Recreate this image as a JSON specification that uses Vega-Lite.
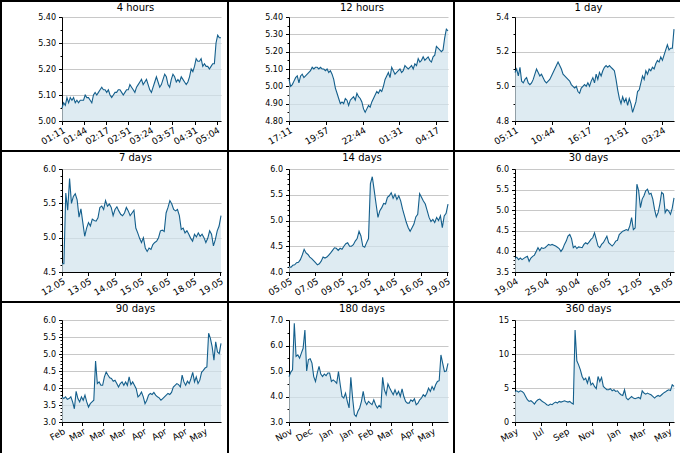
{
  "$schema": "https://vega.github.io/schema/vega-lite/v6.json",
  "padding": 0,
  "background": "white",
  "config": {
    "view": {"stroke": "#000", "strokeWidth": 2, "fill": "#fff"},
    "font": "DejaVu Sans",
    "title": {"font": "DejaVu Sans", "fontSize": 10, "fontWeight": "normal", "color": "#000", "anchor": "middle", "offset": -12, "dx": 21, "baseline": "bottom", "frame": "group"},
    "axis": {"labelFont": "DejaVu Sans", "labelFontSize": 8, "labelColor": "#000", "domainColor": "#000", "tickColor": "#000", "domainWidth": 1, "tickWidth": 1, "gridColor": "#c8c8c8", "gridWidth": 1},
    "axisX": {"grid": false, "labelAngle": -30, "labelAlign": "right", "labelBaseline": "top", "labelFlush": false, "labelOverlap": false, "tickSize": 3.5, "labelPadding": 1, "labelFontSize": 9},
    "axisY": {"grid": true, "labelOverlap": false, "labelPadding": 3}
  },
  "columns": 3,
  "spacing": 0,
  "bounds": "flush",
  "concat": [
    {
      "width": 227, "height": 150,
      "title": {"text": "4 hours"},
      "data": {"name": "h4"},
      "mark": {"type": "area", "color": "#d0e2ed", "line": {"color": "#145f8c", "strokeWidth": 1.1}},
      "encoding": {
        "x": {"field": "t", "type": "temporal", "scale": {"nice": false, "range": [61, 220]},
          "axis": {"title": null, "format": "%H:%M", "offset": -30, "values": [
            {"year": 2024, "month": 5, "date": 19, "hours": 1, "minutes": 11},
            {"year": 2024, "month": 5, "date": 19, "hours": 1, "minutes": 44, "seconds": 20},
            {"year": 2024, "month": 5, "date": 19, "hours": 2, "minutes": 17, "seconds": 40},
            {"year": 2024, "month": 5, "date": 19, "hours": 2, "minutes": 51},
            {"year": 2024, "month": 5, "date": 19, "hours": 3, "minutes": 24, "seconds": 20},
            {"year": 2024, "month": 5, "date": 19, "hours": 3, "minutes": 57, "seconds": 40},
            {"year": 2024, "month": 5, "date": 19, "hours": 4, "minutes": 31},
            {"year": 2024, "month": 5, "date": 19, "hours": 5, "minutes": 4, "seconds": 20}]}},
        "y": {"field": "v", "type": "quantitative", "scale": {"domain": [5.0, 5.4], "nice": false, "zero": false, "range": [120, 16]},
          "axis": {"title": null, "offset": -61, "values": [5.0, 5.05, 5.1, 5.15, 5.2, 5.25, 5.3, 5.35, 5.4],
            "labelExpr": "abs(datum.value*10-round(datum.value*10))<0.001 ? format(datum.value,'.2f') : ''",
            "tickSize": {"condition": {"test": "abs(datum.value*10-round(datum.value*10))<0.001", "value": 3.5}, "value": 2},
            "gridOpacity": {"condition": {"test": "abs(datum.value*10-round(datum.value*10))<0.001", "value": 1}, "value": 0}}},
        "y2": {"datum": 5.0}
      }
    },
    {
      "width": 226, "height": 150,
      "title": {"text": "12 hours"},
      "data": {"name": "h12"},
      "mark": {"type": "area", "color": "#d0e2ed", "line": {"color": "#145f8c", "strokeWidth": 1.1}},
      "encoding": {
        "x": {"field": "t", "type": "temporal", "scale": {"nice": false, "range": [61, 220]},
          "axis": {"title": null, "format": "%H:%M", "offset": -30, "values": [
            {"year": 2024, "month": 5, "date": 18, "hours": 17, "minutes": 11},
            {"year": 2024, "month": 5, "date": 18, "hours": 19, "minutes": 57, "seconds": 40},
            {"year": 2024, "month": 5, "date": 18, "hours": 22, "minutes": 44, "seconds": 20},
            {"year": 2024, "month": 5, "date": 19, "hours": 1, "minutes": 31},
            {"year": 2024, "month": 5, "date": 19, "hours": 4, "minutes": 17, "seconds": 40}]}},
        "y": {"field": "v", "type": "quantitative", "scale": {"domain": [4.8, 5.4], "nice": false, "zero": false, "range": [120, 16]},
          "axis": {"title": null, "offset": -61, "values": [4.8, 4.85, 4.9, 4.95, 5.0, 5.05, 5.1, 5.15, 5.2, 5.25, 5.3, 5.35, 5.4],
            "labelExpr": "abs(datum.value*10-round(datum.value*10))<0.001 ? format(datum.value,'.2f') : ''",
            "tickSize": {"condition": {"test": "abs(datum.value*10-round(datum.value*10))<0.001", "value": 3.5}, "value": 2},
            "gridOpacity": {"condition": {"test": "abs(datum.value*10-round(datum.value*10))<0.001", "value": 1}, "value": 0}}},
        "y2": {"datum": 4.8}
      }
    },
    {
      "width": 227, "height": 150,
      "title": {"text": "1 day"},
      "data": {"name": "d1"},
      "mark": {"type": "area", "color": "#d0e2ed", "line": {"color": "#145f8c", "strokeWidth": 1.1}},
      "encoding": {
        "x": {"field": "t", "type": "temporal", "scale": {"nice": false, "range": [61, 220]},
          "axis": {"title": null, "format": "%H:%M", "offset": -30, "values": [
            {"year": 2024, "month": 5, "date": 18, "hours": 5, "minutes": 11},
            {"year": 2024, "month": 5, "date": 18, "hours": 10, "minutes": 44, "seconds": 20},
            {"year": 2024, "month": 5, "date": 18, "hours": 16, "minutes": 17, "seconds": 40},
            {"year": 2024, "month": 5, "date": 18, "hours": 21, "minutes": 51},
            {"year": 2024, "month": 5, "date": 19, "hours": 3, "minutes": 24, "seconds": 20}]}},
        "y": {"field": "v", "type": "quantitative", "scale": {"domain": [4.8, 5.4], "nice": false, "zero": false, "range": [120, 16]},
          "axis": {"title": null, "offset": -61, "values": [4.8, 4.9, 5.0, 5.1, 5.2, 5.3, 5.4],
            "labelExpr": "abs(datum.value*5-round(datum.value*5))<0.001 ? format(datum.value,'.1f') : ''",
            "tickSize": {"condition": {"test": "abs(datum.value*5-round(datum.value*5))<0.001", "value": 3.5}, "value": 2},
            "gridOpacity": {"condition": {"test": "abs(datum.value*5-round(datum.value*5))<0.001", "value": 1}, "value": 0}}},
        "y2": {"datum": 4.8}
      }
    },
    {
      "width": 227, "height": 151,
      "title": {"text": "7 days"},
      "data": {"name": "d7"},
      "mark": {"type": "area", "color": "#d0e2ed", "line": {"color": "#145f8c", "strokeWidth": 1.1}},
      "encoding": {
        "x": {"field": "t", "type": "temporal", "scale": {"nice": false, "range": [61, 220]},
          "axis": {"title": null, "format": "%d.%m", "offset": -30, "values": [
            {"year": 2024, "month": 5, "date": 12, "hours": 5, "minutes": 11},
            {"year": 2024, "month": 5, "date": 13, "hours": 8, "minutes": 59},
            {"year": 2024, "month": 5, "date": 14, "hours": 12, "minutes": 47},
            {"year": 2024, "month": 5, "date": 15, "hours": 16, "minutes": 35},
            {"year": 2024, "month": 5, "date": 16, "hours": 20, "minutes": 23},
            {"year": 2024, "month": 5, "date": 18, "hours": 0, "minutes": 11},
            {"year": 2024, "month": 5, "date": 19, "hours": 3, "minutes": 59}]}},
        "y": {"field": "v", "type": "quantitative", "scale": {"domain": [4.5, 6.0], "nice": false, "zero": false, "range": [121, 18]},
          "axis": {"title": null, "offset": -61, "values": [4.5, 4.6, 4.7, 4.8, 4.9, 5.0, 5.1, 5.2, 5.3, 5.4, 5.5, 5.6, 5.7, 5.8, 5.9, 6.0],
            "labelExpr": "abs(datum.value*2-round(datum.value*2))<0.001 ? format(datum.value,'.1f') : ''",
            "tickSize": {"condition": {"test": "abs(datum.value*2-round(datum.value*2))<0.001", "value": 3.5}, "value": 2},
            "gridOpacity": {"condition": {"test": "abs(datum.value*2-round(datum.value*2))<0.001", "value": 1}, "value": 0}}},
        "y2": {"datum": 4.5}
      }
    },
    {
      "width": 226, "height": 151,
      "title": {"text": "14 days"},
      "data": {"name": "d14"},
      "mark": {"type": "area", "color": "#d0e2ed", "line": {"color": "#145f8c", "strokeWidth": 1.1}},
      "encoding": {
        "x": {"field": "t", "type": "temporal", "scale": {"nice": false, "range": [61, 220]},
          "axis": {"title": null, "format": "%d.%m", "offset": -30, "values": [
            {"year": 2024, "month": 5, "date": 5, "hours": 5, "minutes": 11},
            {"year": 2024, "month": 5, "date": 7, "hours": 12, "minutes": 47},
            {"year": 2024, "month": 5, "date": 9, "hours": 20, "minutes": 23},
            {"year": 2024, "month": 5, "date": 12, "hours": 3, "minutes": 59},
            {"year": 2024, "month": 5, "date": 14, "hours": 11, "minutes": 35},
            {"year": 2024, "month": 5, "date": 16, "hours": 19, "minutes": 11},
            {"year": 2024, "month": 5, "date": 19, "hours": 2, "minutes": 47}]}},
        "y": {"field": "v", "type": "quantitative", "scale": {"domain": [4.0, 6.0], "nice": false, "zero": false, "range": [121, 18]},
          "axis": {"title": null, "offset": -61, "values": [4.0, 4.1, 4.2, 4.3, 4.4, 4.5, 4.6, 4.7, 4.8, 4.9, 5.0, 5.1, 5.2, 5.3, 5.4, 5.5, 5.6, 5.7, 5.8, 5.9, 6.0],
            "labelExpr": "abs(datum.value*2-round(datum.value*2))<0.001 ? format(datum.value,'.1f') : ''",
            "tickSize": {"condition": {"test": "abs(datum.value*2-round(datum.value*2))<0.001", "value": 3.5}, "value": 2},
            "gridOpacity": {"condition": {"test": "abs(datum.value*2-round(datum.value*2))<0.001", "value": 1}, "value": 0}}},
        "y2": {"datum": 4.0}
      }
    },
    {
      "width": 227, "height": 151,
      "title": {"text": "30 days"},
      "data": {"name": "d30"},
      "mark": {"type": "area", "color": "#d0e2ed", "line": {"color": "#145f8c", "strokeWidth": 1.1}},
      "encoding": {
        "x": {"field": "t", "type": "temporal", "scale": {"nice": false, "range": [61, 220]},
          "axis": {"title": null, "format": "%d.%m", "offset": -30, "values": [
            {"year": 2024, "month": 4, "date": 19, "hours": 5, "minutes": 11},
            {"year": 2024, "month": 4, "date": 25, "hours": 1, "minutes": 11},
            {"year": 2024, "month": 4, "date": 30, "hours": 21, "minutes": 11},
            {"year": 2024, "month": 5, "date": 6, "hours": 17, "minutes": 11},
            {"year": 2024, "month": 5, "date": 12, "hours": 13, "minutes": 11},
            {"year": 2024, "month": 5, "date": 18, "hours": 9, "minutes": 11}]}},
        "y": {"field": "v", "type": "quantitative", "scale": {"domain": [3.5, 6.0], "nice": false, "zero": false, "range": [121, 18]},
          "axis": {"title": null, "offset": -61, "values": [3.5, 3.6, 3.7, 3.8, 3.9, 4.0, 4.1, 4.2, 4.3, 4.4, 4.5, 4.6, 4.7, 4.8, 4.9, 5.0, 5.1, 5.2, 5.3, 5.4, 5.5, 5.6, 5.7, 5.8, 5.9, 6.0],
            "labelExpr": "abs(datum.value*2-round(datum.value*2))<0.001 ? format(datum.value,'.1f') : ''",
            "tickSize": {"condition": {"test": "abs(datum.value*2-round(datum.value*2))<0.001", "value": 3.5}, "value": 2},
            "gridOpacity": {"condition": {"test": "abs(datum.value*2-round(datum.value*2))<0.001", "value": 1}, "value": 0}}},
        "y2": {"datum": 3.5}
      }
    },
    {
      "width": 227, "height": 152,
      "title": {"text": "90 days"},
      "data": {"name": "d90"},
      "mark": {"type": "area", "color": "#d0e2ed", "line": {"color": "#145f8c", "strokeWidth": 1.1}},
      "encoding": {
        "x": {"field": "t", "type": "temporal", "scale": {"nice": false, "range": [61, 220]},
          "axis": {"title": null, "format": "%b", "offset": -32, "values": [
            {"year": 2024, "month": 2, "date": 19, "hours": 5, "minutes": 11},
            {"year": 2024, "month": 3, "date": 1, "hours": 17, "minutes": 11},
            {"year": 2024, "month": 3, "date": 13, "hours": 5, "minutes": 11},
            {"year": 2024, "month": 3, "date": 24, "hours": 17, "minutes": 11},
            {"year": 2024, "month": 4, "date": 5, "hours": 5, "minutes": 11},
            {"year": 2024, "month": 4, "date": 16, "hours": 17, "minutes": 11},
            {"year": 2024, "month": 4, "date": 28, "hours": 5, "minutes": 11},
            {"year": 2024, "month": 5, "date": 9, "hours": 17, "minutes": 11}]}},
        "y": {"field": "v", "type": "quantitative", "scale": {"domain": [3.0, 6.0], "nice": false, "zero": false, "range": [120, 18]},
          "axis": {"title": null, "offset": -61, "values": [3.0, 3.1, 3.2, 3.3, 3.4, 3.5, 3.6, 3.7, 3.8, 3.9, 4.0, 4.1, 4.2, 4.3, 4.4, 4.5, 4.6, 4.7, 4.8, 4.9, 5.0, 5.1, 5.2, 5.3, 5.4, 5.5, 5.6, 5.7, 5.8, 5.9, 6.0],
            "labelExpr": "abs(datum.value*2-round(datum.value*2))<0.001 ? format(datum.value,'.1f') : ''",
            "tickSize": {"condition": {"test": "abs(datum.value*2-round(datum.value*2))<0.001", "value": 3.5}, "value": 2},
            "gridOpacity": {"condition": {"test": "abs(datum.value*2-round(datum.value*2))<0.001", "value": 1}, "value": 0}}},
        "y2": {"datum": 3.0}
      }
    },
    {
      "width": 226, "height": 152,
      "title": {"text": "180 days"},
      "data": {"name": "d180"},
      "mark": {"type": "area", "color": "#d0e2ed", "line": {"color": "#145f8c", "strokeWidth": 1.1}},
      "encoding": {
        "x": {"field": "t", "type": "temporal", "scale": {"nice": false, "range": [61, 220]},
          "axis": {"title": null, "format": "%b", "offset": -32, "values": [
            {"year": 2023, "month": 11, "date": 21, "hours": 5, "minutes": 11},
            {"year": 2023, "month": 12, "date": 14, "hours": 5, "minutes": 11},
            {"year": 2024, "month": 1, "date": 6, "hours": 5, "minutes": 11},
            {"year": 2024, "month": 1, "date": 29, "hours": 5, "minutes": 11},
            {"year": 2024, "month": 2, "date": 21, "hours": 5, "minutes": 11},
            {"year": 2024, "month": 3, "date": 15, "hours": 5, "minutes": 11},
            {"year": 2024, "month": 4, "date": 8, "hours": 5, "minutes": 11},
            {"year": 2024, "month": 5, "date": 1, "hours": 5, "minutes": 11}]}},
        "y": {"field": "v", "type": "quantitative", "scale": {"domain": [3.0, 7.0], "nice": false, "zero": false, "range": [120, 18]},
          "axis": {"title": null, "offset": -61, "values": [3.0, 3.5, 4.0, 4.5, 5.0, 5.5, 6.0, 6.5, 7.0],
            "labelExpr": "abs(datum.value-round(datum.value))<0.001 ? format(datum.value,'.1f') : ''",
            "tickSize": {"condition": {"test": "abs(datum.value-round(datum.value))<0.001", "value": 3.5}, "value": 2},
            "gridOpacity": {"condition": {"test": "abs(datum.value-round(datum.value))<0.001", "value": 1}, "value": 0}}},
        "y2": {"datum": 3.0}
      }
    },
    {
      "width": 227, "height": 152,
      "title": {"text": "360 days"},
      "data": {"name": "d360"},
      "mark": {"type": "area", "color": "#d0e2ed", "line": {"color": "#145f8c", "strokeWidth": 1.1}},
      "encoding": {
        "x": {"field": "t", "type": "temporal", "scale": {"nice": false, "range": [61, 220]},
          "axis": {"title": null, "format": "%b", "offset": -32, "values": [
            {"year": 2023, "month": 5, "date": 25, "hours": 5, "minutes": 11},
            {"year": 2023, "month": 7, "date": 22, "hours": 5, "minutes": 11},
            {"year": 2023, "month": 9, "date": 18, "hours": 5, "minutes": 11},
            {"year": 2023, "month": 11, "date": 15, "hours": 5, "minutes": 11},
            {"year": 2024, "month": 1, "date": 12, "hours": 5, "minutes": 11},
            {"year": 2024, "month": 3, "date": 10, "hours": 5, "minutes": 11},
            {"year": 2024, "month": 5, "date": 7, "hours": 5, "minutes": 11}]}},
        "y": {"field": "v", "type": "quantitative", "scale": {"domain": [0, 15], "nice": false, "zero": false, "range": [120, 18]},
          "axis": {"title": null, "offset": -61, "values": [0, 1, 2, 3, 4, 5, 6, 7, 8, 9, 10, 11, 12, 13, 14, 15],
            "labelExpr": "datum.value % 5 == 0 ? format(datum.value,'d') : ''",
            "tickSize": {"condition": {"test": "datum.value % 5 == 0", "value": 3.5}, "value": 2},
            "gridOpacity": {"condition": {"test": "datum.value % 5 == 0", "value": 1}, "value": 0}}},
        "y2": {"datum": 0}
      }
    }
  ],
  "datasets": {
    "h4": [
      {"t": "2024-05-19T01:11:00", "v": 5.05}, {"t": "2024-05-19T01:13:30", "v": 5.07}, {"t": "2024-05-19T01:16:00", "v": 5.06}, {"t": "2024-05-19T01:18:30", "v": 5.09},
      {"t": "2024-05-19T01:21:00", "v": 5.07}, {"t": "2024-05-19T01:23:30", "v": 5.09}, {"t": "2024-05-19T01:26:00", "v": 5.08}, {"t": "2024-05-19T01:28:30", "v": 5.09},
      {"t": "2024-05-19T01:31:00", "v": 5.07}, {"t": "2024-05-19T01:33:30", "v": 5.08}, {"t": "2024-05-19T01:36:00", "v": 5.07}, {"t": "2024-05-19T01:38:30", "v": 5.08},
      {"t": "2024-05-19T01:41:00", "v": 5.08}, {"t": "2024-05-19T01:43:30", "v": 5.08}, {"t": "2024-05-19T01:46:00", "v": 5.10}, {"t": "2024-05-19T01:48:30", "v": 5.09},
      {"t": "2024-05-19T01:51:00", "v": 5.09}, {"t": "2024-05-19T01:53:30", "v": 5.08}, {"t": "2024-05-19T01:56:00", "v": 5.07}, {"t": "2024-05-19T01:58:30", "v": 5.10},
      {"t": "2024-05-19T02:01:00", "v": 5.11}, {"t": "2024-05-19T02:03:30", "v": 5.10}, {"t": "2024-05-19T02:06:00", "v": 5.11}, {"t": "2024-05-19T02:08:30", "v": 5.12},
      {"t": "2024-05-19T02:11:00", "v": 5.13}, {"t": "2024-05-19T02:13:30", "v": 5.12}, {"t": "2024-05-19T02:16:00", "v": 5.12}, {"t": "2024-05-19T02:18:30", "v": 5.11},
      {"t": "2024-05-19T02:21:00", "v": 5.12}, {"t": "2024-05-19T02:23:30", "v": 5.10}, {"t": "2024-05-19T02:26:00", "v": 5.09}, {"t": "2024-05-19T02:28:30", "v": 5.10},
      {"t": "2024-05-19T02:31:00", "v": 5.11}, {"t": "2024-05-19T02:33:30", "v": 5.11}, {"t": "2024-05-19T02:36:00", "v": 5.12}, {"t": "2024-05-19T02:38:30", "v": 5.12},
      {"t": "2024-05-19T02:41:00", "v": 5.11}, {"t": "2024-05-19T02:43:30", "v": 5.10}, {"t": "2024-05-19T02:46:00", "v": 5.11}, {"t": "2024-05-19T02:48:30", "v": 5.12},
      {"t": "2024-05-19T02:51:00", "v": 5.12}, {"t": "2024-05-19T02:53:30", "v": 5.14}, {"t": "2024-05-19T02:56:00", "v": 5.13}, {"t": "2024-05-19T02:58:30", "v": 5.12},
      {"t": "2024-05-19T03:01:00", "v": 5.11}, {"t": "2024-05-19T03:03:30", "v": 5.13}, {"t": "2024-05-19T03:06:00", "v": 5.14}, {"t": "2024-05-19T03:08:30", "v": 5.15},
      {"t": "2024-05-19T03:11:00", "v": 5.16}, {"t": "2024-05-19T03:13:30", "v": 5.14}, {"t": "2024-05-19T03:16:00", "v": 5.15}, {"t": "2024-05-19T03:18:30", "v": 5.16},
      {"t": "2024-05-19T03:21:00", "v": 5.14}, {"t": "2024-05-19T03:23:30", "v": 5.12}, {"t": "2024-05-19T03:26:00", "v": 5.11}, {"t": "2024-05-19T03:28:30", "v": 5.13},
      {"t": "2024-05-19T03:31:00", "v": 5.15}, {"t": "2024-05-19T03:33:30", "v": 5.17}, {"t": "2024-05-19T03:36:00", "v": 5.15}, {"t": "2024-05-19T03:38:30", "v": 5.13},
      {"t": "2024-05-19T03:41:00", "v": 5.14}, {"t": "2024-05-19T03:43:30", "v": 5.16}, {"t": "2024-05-19T03:46:00", "v": 5.18}, {"t": "2024-05-19T03:48:30", "v": 5.17},
      {"t": "2024-05-19T03:51:00", "v": 5.14}, {"t": "2024-05-19T03:53:30", "v": 5.13}, {"t": "2024-05-19T03:56:00", "v": 5.16}, {"t": "2024-05-19T03:58:30", "v": 5.18},
      {"t": "2024-05-19T04:01:00", "v": 5.17}, {"t": "2024-05-19T04:03:30", "v": 5.15}, {"t": "2024-05-19T04:06:00", "v": 5.16}, {"t": "2024-05-19T04:08:30", "v": 5.15},
      {"t": "2024-05-19T04:11:00", "v": 5.17}, {"t": "2024-05-19T04:13:30", "v": 5.16}, {"t": "2024-05-19T04:16:00", "v": 5.15}, {"t": "2024-05-19T04:18:30", "v": 5.14},
      {"t": "2024-05-19T04:21:00", "v": 5.15}, {"t": "2024-05-19T04:23:30", "v": 5.17}, {"t": "2024-05-19T04:26:00", "v": 5.20}, {"t": "2024-05-19T04:28:30", "v": 5.19},
      {"t": "2024-05-19T04:31:00", "v": 5.21}, {"t": "2024-05-19T04:33:30", "v": 5.24}, {"t": "2024-05-19T04:36:00", "v": 5.23}, {"t": "2024-05-19T04:38:30", "v": 5.23},
      {"t": "2024-05-19T04:41:00", "v": 5.24}, {"t": "2024-05-19T04:43:30", "v": 5.21}, {"t": "2024-05-19T04:46:00", "v": 5.22}, {"t": "2024-05-19T04:48:30", "v": 5.21},
      {"t": "2024-05-19T04:51:00", "v": 5.21}, {"t": "2024-05-19T04:53:30", "v": 5.20}, {"t": "2024-05-19T04:56:00", "v": 5.21}, {"t": "2024-05-19T04:58:30", "v": 5.22},
      {"t": "2024-05-19T05:01:00", "v": 5.22}, {"t": "2024-05-19T05:03:30", "v": 5.30}, {"t": "2024-05-19T05:06:00", "v": 5.33}, {"t": "2024-05-19T05:08:30", "v": 5.32},
      {"t": "2024-05-19T05:11:00", "v": 5.32}
    ],
    "h12": [
      {"t": "2024-05-18T17:11:00", "v": 5.04}, {"t": "2024-05-18T17:18:30", "v": 5.00}, {"t": "2024-05-18T17:26:00", "v": 5.01}, {"t": "2024-05-18T17:33:30", "v": 5.03},
      {"t": "2024-05-18T17:41:00", "v": 5.05}, {"t": "2024-05-18T17:48:30", "v": 5.06}, {"t": "2024-05-18T17:56:00", "v": 5.02}, {"t": "2024-05-18T18:03:30", "v": 5.06},
      {"t": "2024-05-18T18:11:00", "v": 5.07}, {"t": "2024-05-18T18:18:30", "v": 5.05}, {"t": "2024-05-18T18:26:00", "v": 5.06}, {"t": "2024-05-18T18:33:30", "v": 5.07},
      {"t": "2024-05-18T18:41:00", "v": 5.08}, {"t": "2024-05-18T18:48:30", "v": 5.09}, {"t": "2024-05-18T18:56:00", "v": 5.11}, {"t": "2024-05-18T19:03:30", "v": 5.10},
      {"t": "2024-05-18T19:11:00", "v": 5.11}, {"t": "2024-05-18T19:18:30", "v": 5.11}, {"t": "2024-05-18T19:26:00", "v": 5.10}, {"t": "2024-05-18T19:33:30", "v": 5.11},
      {"t": "2024-05-18T19:41:00", "v": 5.10}, {"t": "2024-05-18T19:48:30", "v": 5.10}, {"t": "2024-05-18T19:56:00", "v": 5.09}, {"t": "2024-05-18T20:03:30", "v": 5.10},
      {"t": "2024-05-18T20:11:00", "v": 5.08}, {"t": "2024-05-18T20:18:30", "v": 5.09}, {"t": "2024-05-18T20:26:00", "v": 5.07}, {"t": "2024-05-18T20:33:30", "v": 5.04},
      {"t": "2024-05-18T20:41:00", "v": 4.99}, {"t": "2024-05-18T20:48:30", "v": 4.96}, {"t": "2024-05-18T20:56:00", "v": 4.93}, {"t": "2024-05-18T21:03:30", "v": 4.90},
      {"t": "2024-05-18T21:11:00", "v": 4.91}, {"t": "2024-05-18T21:18:30", "v": 4.90}, {"t": "2024-05-18T21:26:00", "v": 4.93}, {"t": "2024-05-18T21:33:30", "v": 4.92},
      {"t": "2024-05-18T21:41:00", "v": 4.89}, {"t": "2024-05-18T21:48:30", "v": 4.92}, {"t": "2024-05-18T21:56:00", "v": 4.93}, {"t": "2024-05-18T22:03:30", "v": 4.94},
      {"t": "2024-05-18T22:11:00", "v": 4.92}, {"t": "2024-05-18T22:18:30", "v": 4.96}, {"t": "2024-05-18T22:26:00", "v": 4.94}, {"t": "2024-05-18T22:33:30", "v": 4.93},
      {"t": "2024-05-18T22:41:00", "v": 4.91}, {"t": "2024-05-18T22:48:30", "v": 4.87}, {"t": "2024-05-18T22:56:00", "v": 4.85}, {"t": "2024-05-18T23:03:30", "v": 4.87},
      {"t": "2024-05-18T23:11:00", "v": 4.89}, {"t": "2024-05-18T23:18:30", "v": 4.88}, {"t": "2024-05-18T23:26:00", "v": 4.91}, {"t": "2024-05-18T23:33:30", "v": 4.93},
      {"t": "2024-05-18T23:41:00", "v": 4.95}, {"t": "2024-05-18T23:48:30", "v": 4.97}, {"t": "2024-05-18T23:56:00", "v": 4.96}, {"t": "2024-05-19T00:03:30", "v": 4.98},
      {"t": "2024-05-19T00:11:00", "v": 4.97}, {"t": "2024-05-19T00:18:30", "v": 5.00}, {"t": "2024-05-19T00:26:00", "v": 5.04}, {"t": "2024-05-19T00:33:30", "v": 5.06},
      {"t": "2024-05-19T00:41:00", "v": 5.08}, {"t": "2024-05-19T00:48:30", "v": 5.05}, {"t": "2024-05-19T00:56:00", "v": 5.11}, {"t": "2024-05-19T01:03:30", "v": 5.09},
      {"t": "2024-05-19T01:11:00", "v": 5.07}, {"t": "2024-05-19T01:18:30", "v": 5.08}, {"t": "2024-05-19T01:26:00", "v": 5.09}, {"t": "2024-05-19T01:33:30", "v": 5.10},
      {"t": "2024-05-19T01:41:00", "v": 5.08}, {"t": "2024-05-19T01:48:30", "v": 5.09}, {"t": "2024-05-19T01:56:00", "v": 5.12}, {"t": "2024-05-19T02:03:30", "v": 5.11},
      {"t": "2024-05-19T02:11:00", "v": 5.10}, {"t": "2024-05-19T02:18:30", "v": 5.11}, {"t": "2024-05-19T02:26:00", "v": 5.12}, {"t": "2024-05-19T02:33:30", "v": 5.10},
      {"t": "2024-05-19T02:41:00", "v": 5.13}, {"t": "2024-05-19T02:48:30", "v": 5.12}, {"t": "2024-05-19T02:56:00", "v": 5.16}, {"t": "2024-05-19T03:03:30", "v": 5.14},
      {"t": "2024-05-19T03:11:00", "v": 5.15}, {"t": "2024-05-19T03:18:30", "v": 5.17}, {"t": "2024-05-19T03:26:00", "v": 5.15}, {"t": "2024-05-19T03:33:30", "v": 5.16},
      {"t": "2024-05-19T03:41:00", "v": 5.17}, {"t": "2024-05-19T03:48:30", "v": 5.15}, {"t": "2024-05-19T03:56:00", "v": 5.14}, {"t": "2024-05-19T04:03:30", "v": 5.17},
      {"t": "2024-05-19T04:11:00", "v": 5.18}, {"t": "2024-05-19T04:18:30", "v": 5.23}, {"t": "2024-05-19T04:26:00", "v": 5.22}, {"t": "2024-05-19T04:33:30", "v": 5.21},
      {"t": "2024-05-19T04:41:00", "v": 5.20}, {"t": "2024-05-19T04:48:30", "v": 5.21}, {"t": "2024-05-19T04:56:00", "v": 5.28}, {"t": "2024-05-19T05:03:30", "v": 5.33},
      {"t": "2024-05-19T05:11:00", "v": 5.32}
    ],
    "d1": [
      {"t": "2024-05-18T05:11:00", "v": 5.08}, {"t": "2024-05-18T05:26:00", "v": 5.10}, {"t": "2024-05-18T05:41:00", "v": 5.06}, {"t": "2024-05-18T05:56:00", "v": 5.11},
      {"t": "2024-05-18T06:11:00", "v": 5.03}, {"t": "2024-05-18T06:26:00", "v": 5.02}, {"t": "2024-05-18T06:41:00", "v": 5.04}, {"t": "2024-05-18T06:56:00", "v": 5.05},
      {"t": "2024-05-18T07:11:00", "v": 5.02}, {"t": "2024-05-18T07:26:00", "v": 5.01}, {"t": "2024-05-18T07:41:00", "v": 5.02}, {"t": "2024-05-18T07:56:00", "v": 5.04},
      {"t": "2024-05-18T08:11:00", "v": 5.07}, {"t": "2024-05-18T08:26:00", "v": 5.10}, {"t": "2024-05-18T08:41:00", "v": 5.08}, {"t": "2024-05-18T08:56:00", "v": 5.06},
      {"t": "2024-05-18T09:11:00", "v": 5.07}, {"t": "2024-05-18T09:26:00", "v": 5.05}, {"t": "2024-05-18T09:41:00", "v": 5.03}, {"t": "2024-05-18T09:56:00", "v": 5.02},
      {"t": "2024-05-18T10:11:00", "v": 5.03}, {"t": "2024-05-18T10:26:00", "v": 5.04}, {"t": "2024-05-18T10:41:00", "v": 5.06}, {"t": "2024-05-18T10:56:00", "v": 5.08},
      {"t": "2024-05-18T11:11:00", "v": 5.10}, {"t": "2024-05-18T11:26:00", "v": 5.12}, {"t": "2024-05-18T11:41:00", "v": 5.14}, {"t": "2024-05-18T11:56:00", "v": 5.12},
      {"t": "2024-05-18T12:11:00", "v": 5.10}, {"t": "2024-05-18T12:26:00", "v": 5.07}, {"t": "2024-05-18T12:41:00", "v": 5.06}, {"t": "2024-05-18T12:56:00", "v": 5.05},
      {"t": "2024-05-18T13:11:00", "v": 5.04}, {"t": "2024-05-18T13:26:00", "v": 5.03}, {"t": "2024-05-18T13:41:00", "v": 5.01}, {"t": "2024-05-18T13:56:00", "v": 5.00},
      {"t": "2024-05-18T14:11:00", "v": 4.99}, {"t": "2024-05-18T14:26:00", "v": 5.00}, {"t": "2024-05-18T14:41:00", "v": 4.97}, {"t": "2024-05-18T14:56:00", "v": 4.96},
      {"t": "2024-05-18T15:11:00", "v": 4.99}, {"t": "2024-05-18T15:26:00", "v": 5.00}, {"t": "2024-05-18T15:41:00", "v": 5.01}, {"t": "2024-05-18T15:56:00", "v": 5.00},
      {"t": "2024-05-18T16:11:00", "v": 5.02}, {"t": "2024-05-18T16:26:00", "v": 5.00}, {"t": "2024-05-18T16:41:00", "v": 5.03}, {"t": "2024-05-18T16:56:00", "v": 5.05},
      {"t": "2024-05-18T17:11:00", "v": 5.02}, {"t": "2024-05-18T17:26:00", "v": 5.07}, {"t": "2024-05-18T17:41:00", "v": 5.04}, {"t": "2024-05-18T17:56:00", "v": 5.08},
      {"t": "2024-05-18T18:11:00", "v": 5.06}, {"t": "2024-05-18T18:26:00", "v": 5.09}, {"t": "2024-05-18T18:41:00", "v": 5.11}, {"t": "2024-05-18T18:56:00", "v": 5.12},
      {"t": "2024-05-18T19:11:00", "v": 5.11}, {"t": "2024-05-18T19:26:00", "v": 5.12}, {"t": "2024-05-18T19:41:00", "v": 5.11}, {"t": "2024-05-18T19:56:00", "v": 5.10},
      {"t": "2024-05-18T20:11:00", "v": 5.09}, {"t": "2024-05-18T20:26:00", "v": 5.04}, {"t": "2024-05-18T20:41:00", "v": 4.98}, {"t": "2024-05-18T20:56:00", "v": 4.93},
      {"t": "2024-05-18T21:11:00", "v": 4.90}, {"t": "2024-05-18T21:26:00", "v": 4.94}, {"t": "2024-05-18T21:41:00", "v": 4.91}, {"t": "2024-05-18T21:56:00", "v": 4.93},
      {"t": "2024-05-18T22:11:00", "v": 4.89}, {"t": "2024-05-18T22:26:00", "v": 4.93}, {"t": "2024-05-18T22:41:00", "v": 4.90}, {"t": "2024-05-18T22:56:00", "v": 4.85},
      {"t": "2024-05-18T23:11:00", "v": 4.88}, {"t": "2024-05-18T23:26:00", "v": 4.91}, {"t": "2024-05-18T23:41:00", "v": 4.97}, {"t": "2024-05-18T23:56:00", "v": 4.98},
      {"t": "2024-05-19T00:11:00", "v": 5.02}, {"t": "2024-05-19T00:26:00", "v": 5.06}, {"t": "2024-05-19T00:41:00", "v": 5.04}, {"t": "2024-05-19T00:56:00", "v": 5.09},
      {"t": "2024-05-19T01:11:00", "v": 5.07}, {"t": "2024-05-19T01:26:00", "v": 5.10}, {"t": "2024-05-19T01:41:00", "v": 5.09}, {"t": "2024-05-19T01:56:00", "v": 5.11},
      {"t": "2024-05-19T02:11:00", "v": 5.10}, {"t": "2024-05-19T02:26:00", "v": 5.13}, {"t": "2024-05-19T02:41:00", "v": 5.15}, {"t": "2024-05-19T02:56:00", "v": 5.14},
      {"t": "2024-05-19T03:11:00", "v": 5.17}, {"t": "2024-05-19T03:26:00", "v": 5.15}, {"t": "2024-05-19T03:41:00", "v": 5.18}, {"t": "2024-05-19T03:56:00", "v": 5.21},
      {"t": "2024-05-19T04:11:00", "v": 5.24}, {"t": "2024-05-19T04:26:00", "v": 5.21}, {"t": "2024-05-19T04:41:00", "v": 5.22}, {"t": "2024-05-19T04:56:00", "v": 5.22},
      {"t": "2024-05-19T05:11:00", "v": 5.33}
    ],
    "d7": [
      {"t": "2024-05-12T05:11:00", "v": 4.62}, {"t": "2024-05-12T07:11:00", "v": 4.62}, {"t": "2024-05-12T09:11:00", "v": 5.65}, {"t": "2024-05-12T11:11:00", "v": 5.40},
      {"t": "2024-05-12T13:11:00", "v": 5.86}, {"t": "2024-05-12T15:11:00", "v": 5.50}, {"t": "2024-05-12T17:11:00", "v": 5.60}, {"t": "2024-05-12T19:11:00", "v": 5.64},
      {"t": "2024-05-12T21:11:00", "v": 5.55}, {"t": "2024-05-12T23:11:00", "v": 5.30}, {"t": "2024-05-13T01:11:00", "v": 5.42}, {"t": "2024-05-13T03:11:00", "v": 5.22},
      {"t": "2024-05-13T05:11:00", "v": 5.02}, {"t": "2024-05-13T07:11:00", "v": 5.14}, {"t": "2024-05-13T09:11:00", "v": 5.22}, {"t": "2024-05-13T11:11:00", "v": 5.17},
      {"t": "2024-05-13T13:11:00", "v": 5.27}, {"t": "2024-05-13T15:11:00", "v": 5.25}, {"t": "2024-05-13T17:11:00", "v": 5.24}, {"t": "2024-05-13T19:11:00", "v": 5.29},
      {"t": "2024-05-13T21:11:00", "v": 5.44}, {"t": "2024-05-13T23:11:00", "v": 5.46}, {"t": "2024-05-14T01:11:00", "v": 5.41}, {"t": "2024-05-14T03:11:00", "v": 5.54},
      {"t": "2024-05-14T05:11:00", "v": 5.46}, {"t": "2024-05-14T07:11:00", "v": 5.49}, {"t": "2024-05-14T09:11:00", "v": 5.44}, {"t": "2024-05-14T11:11:00", "v": 5.32},
      {"t": "2024-05-14T13:11:00", "v": 5.41}, {"t": "2024-05-14T15:11:00", "v": 5.45}, {"t": "2024-05-14T17:11:00", "v": 5.39}, {"t": "2024-05-14T19:11:00", "v": 5.34},
      {"t": "2024-05-14T21:11:00", "v": 5.32}, {"t": "2024-05-14T23:11:00", "v": 5.36}, {"t": "2024-05-15T01:11:00", "v": 5.44}, {"t": "2024-05-15T03:11:00", "v": 5.39},
      {"t": "2024-05-15T05:11:00", "v": 5.32}, {"t": "2024-05-15T07:11:00", "v": 5.36}, {"t": "2024-05-15T09:11:00", "v": 5.40}, {"t": "2024-05-15T11:11:00", "v": 5.14},
      {"t": "2024-05-15T13:11:00", "v": 5.07}, {"t": "2024-05-15T15:11:00", "v": 4.99}, {"t": "2024-05-15T17:11:00", "v": 4.93}, {"t": "2024-05-15T19:11:00", "v": 5.00},
      {"t": "2024-05-15T21:11:00", "v": 4.85}, {"t": "2024-05-15T23:11:00", "v": 4.80}, {"t": "2024-05-16T01:11:00", "v": 4.85}, {"t": "2024-05-16T03:11:00", "v": 4.83},
      {"t": "2024-05-16T05:11:00", "v": 4.90}, {"t": "2024-05-16T07:11:00", "v": 4.93}, {"t": "2024-05-16T09:11:00", "v": 4.95}, {"t": "2024-05-16T11:11:00", "v": 5.00},
      {"t": "2024-05-16T13:11:00", "v": 5.10}, {"t": "2024-05-16T15:11:00", "v": 5.11}, {"t": "2024-05-16T17:11:00", "v": 5.09}, {"t": "2024-05-16T19:11:00", "v": 5.36},
      {"t": "2024-05-16T21:11:00", "v": 5.44}, {"t": "2024-05-16T23:11:00", "v": 5.54}, {"t": "2024-05-17T01:11:00", "v": 5.49}, {"t": "2024-05-17T03:11:00", "v": 5.41},
      {"t": "2024-05-17T05:11:00", "v": 5.39}, {"t": "2024-05-17T07:11:00", "v": 5.41}, {"t": "2024-05-17T09:11:00", "v": 5.32}, {"t": "2024-05-17T11:11:00", "v": 5.12},
      {"t": "2024-05-17T13:11:00", "v": 5.14}, {"t": "2024-05-17T15:11:00", "v": 5.07}, {"t": "2024-05-17T17:11:00", "v": 5.10}, {"t": "2024-05-17T19:11:00", "v": 5.05},
      {"t": "2024-05-17T21:11:00", "v": 4.99}, {"t": "2024-05-17T23:11:00", "v": 4.95}, {"t": "2024-05-18T01:11:00", "v": 5.05}, {"t": "2024-05-18T03:11:00", "v": 5.01},
      {"t": "2024-05-18T05:11:00", "v": 5.07}, {"t": "2024-05-18T07:11:00", "v": 5.02}, {"t": "2024-05-18T09:11:00", "v": 5.05}, {"t": "2024-05-18T11:11:00", "v": 5.00},
      {"t": "2024-05-18T13:11:00", "v": 4.93}, {"t": "2024-05-18T15:11:00", "v": 4.99}, {"t": "2024-05-18T17:11:00", "v": 5.10}, {"t": "2024-05-18T19:11:00", "v": 5.05},
      {"t": "2024-05-18T21:11:00", "v": 4.88}, {"t": "2024-05-18T23:11:00", "v": 4.97}, {"t": "2024-05-19T01:11:00", "v": 5.10}, {"t": "2024-05-19T03:11:00", "v": 5.17},
      {"t": "2024-05-19T05:11:00", "v": 5.32}
    ],
    "d14": [
      {"t": "2024-05-05T05:11:00", "v": 4.11}, {"t": "2024-05-05T09:11:00", "v": 4.09}, {"t": "2024-05-05T13:11:00", "v": 4.13}, {"t": "2024-05-05T17:11:00", "v": 4.14}, {"t": "2024-05-05T21:11:00", "v": 4.18}, {"t": "2024-05-06T01:11:00", "v": 4.19},
      {"t": "2024-05-06T05:11:00", "v": 4.24}, {"t": "2024-05-06T09:11:00", "v": 4.33}, {"t": "2024-05-06T13:11:00", "v": 4.44}, {"t": "2024-05-06T17:11:00", "v": 4.37}, {"t": "2024-05-06T21:11:00", "v": 4.34}, {"t": "2024-05-07T01:11:00", "v": 4.29},
      {"t": "2024-05-07T05:11:00", "v": 4.26}, {"t": "2024-05-07T09:11:00", "v": 4.22}, {"t": "2024-05-07T13:11:00", "v": 4.18}, {"t": "2024-05-07T17:11:00", "v": 4.14}, {"t": "2024-05-07T21:11:00", "v": 4.16}, {"t": "2024-05-08T01:11:00", "v": 4.21},
      {"t": "2024-05-08T05:11:00", "v": 4.29}, {"t": "2024-05-08T09:11:00", "v": 4.27}, {"t": "2024-05-08T13:11:00", "v": 4.29}, {"t": "2024-05-08T17:11:00", "v": 4.33}, {"t": "2024-05-08T21:11:00", "v": 4.37}, {"t": "2024-05-09T01:11:00", "v": 4.42},
      {"t": "2024-05-09T05:11:00", "v": 4.47}, {"t": "2024-05-09T09:11:00", "v": 4.46}, {"t": "2024-05-09T13:11:00", "v": 4.42}, {"t": "2024-05-09T17:11:00", "v": 4.46}, {"t": "2024-05-09T21:11:00", "v": 4.44}, {"t": "2024-05-10T01:11:00", "v": 4.50},
      {"t": "2024-05-10T05:11:00", "v": 4.55}, {"t": "2024-05-10T09:11:00", "v": 4.57}, {"t": "2024-05-10T13:11:00", "v": 4.50}, {"t": "2024-05-10T17:11:00", "v": 4.50}, {"t": "2024-05-10T21:11:00", "v": 4.53}, {"t": "2024-05-11T01:11:00", "v": 4.60},
      {"t": "2024-05-11T05:11:00", "v": 4.65}, {"t": "2024-05-11T09:11:00", "v": 4.79}, {"t": "2024-05-11T13:11:00", "v": 4.70}, {"t": "2024-05-11T17:11:00", "v": 4.50}, {"t": "2024-05-11T21:11:00", "v": 4.48}, {"t": "2024-05-12T01:11:00", "v": 4.57},
      {"t": "2024-05-12T05:11:00", "v": 4.65}, {"t": "2024-05-12T09:11:00", "v": 5.71}, {"t": "2024-05-12T13:11:00", "v": 5.85}, {"t": "2024-05-12T17:11:00", "v": 5.59}, {"t": "2024-05-12T21:11:00", "v": 5.32}, {"t": "2024-05-13T01:11:00", "v": 5.06},
      {"t": "2024-05-13T05:11:00", "v": 5.19}, {"t": "2024-05-13T09:11:00", "v": 5.25}, {"t": "2024-05-13T13:11:00", "v": 5.33}, {"t": "2024-05-13T17:11:00", "v": 5.32}, {"t": "2024-05-13T21:11:00", "v": 5.45}, {"t": "2024-05-14T01:11:00", "v": 5.48},
      {"t": "2024-05-14T05:11:00", "v": 5.54}, {"t": "2024-05-14T09:11:00", "v": 5.43}, {"t": "2024-05-14T13:11:00", "v": 5.51}, {"t": "2024-05-14T17:11:00", "v": 5.41}, {"t": "2024-05-14T21:11:00", "v": 5.48}, {"t": "2024-05-15T01:11:00", "v": 5.38},
      {"t": "2024-05-15T05:11:00", "v": 5.22}, {"t": "2024-05-15T09:11:00", "v": 5.09}, {"t": "2024-05-15T13:11:00", "v": 4.96}, {"t": "2024-05-15T17:11:00", "v": 4.86}, {"t": "2024-05-15T21:11:00", "v": 4.79}, {"t": "2024-05-16T01:11:00", "v": 4.86},
      {"t": "2024-05-16T05:11:00", "v": 4.93}, {"t": "2024-05-16T09:11:00", "v": 5.07}, {"t": "2024-05-16T13:11:00", "v": 5.12}, {"t": "2024-05-16T17:11:00", "v": 5.52}, {"t": "2024-05-16T21:11:00", "v": 5.45}, {"t": "2024-05-17T01:11:00", "v": 5.38},
      {"t": "2024-05-17T05:11:00", "v": 5.32}, {"t": "2024-05-17T09:11:00", "v": 5.19}, {"t": "2024-05-17T13:11:00", "v": 5.06}, {"t": "2024-05-17T17:11:00", "v": 4.98}, {"t": "2024-05-17T21:11:00", "v": 5.02}, {"t": "2024-05-18T01:11:00", "v": 4.96},
      {"t": "2024-05-18T05:11:00", "v": 5.06}, {"t": "2024-05-18T09:11:00", "v": 5.00}, {"t": "2024-05-18T13:11:00", "v": 5.09}, {"t": "2024-05-18T17:11:00", "v": 4.86}, {"t": "2024-05-18T21:11:00", "v": 5.09}, {"t": "2024-05-19T01:11:00", "v": 5.14},
      {"t": "2024-05-19T05:11:00", "v": 5.32}
    ],
    "d30": [
      {"t": "2024-04-19T05:11:00", "v": 3.83}, {"t": "2024-04-19T13:11:00", "v": 3.86}, {"t": "2024-04-19T21:11:00", "v": 3.80},
      {"t": "2024-04-20T05:11:00", "v": 3.84}, {"t": "2024-04-20T13:11:00", "v": 3.80}, {"t": "2024-04-20T21:11:00", "v": 3.83},
      {"t": "2024-04-21T05:11:00", "v": 3.86}, {"t": "2024-04-21T13:11:00", "v": 3.88}, {"t": "2024-04-21T21:11:00", "v": 3.76},
      {"t": "2024-04-22T05:11:00", "v": 3.84}, {"t": "2024-04-22T13:11:00", "v": 3.88}, {"t": "2024-04-22T21:11:00", "v": 3.91},
      {"t": "2024-04-23T05:11:00", "v": 4.00}, {"t": "2024-04-23T13:11:00", "v": 4.09}, {"t": "2024-04-23T21:11:00", "v": 4.02},
      {"t": "2024-04-24T05:11:00", "v": 4.09}, {"t": "2024-04-24T13:11:00", "v": 4.07}, {"t": "2024-04-24T21:11:00", "v": 4.09},
      {"t": "2024-04-25T05:11:00", "v": 4.13}, {"t": "2024-04-25T13:11:00", "v": 4.17}, {"t": "2024-04-25T21:11:00", "v": 4.15},
      {"t": "2024-04-26T05:11:00", "v": 4.17}, {"t": "2024-04-26T13:11:00", "v": 4.15}, {"t": "2024-04-26T21:11:00", "v": 4.13},
      {"t": "2024-04-27T05:11:00", "v": 4.10}, {"t": "2024-04-27T13:11:00", "v": 4.07}, {"t": "2024-04-27T21:11:00", "v": 4.00},
      {"t": "2024-04-28T05:11:00", "v": 4.06}, {"t": "2024-04-28T13:11:00", "v": 4.17}, {"t": "2024-04-28T21:11:00", "v": 4.25},
      {"t": "2024-04-29T05:11:00", "v": 4.37}, {"t": "2024-04-29T13:11:00", "v": 4.41}, {"t": "2024-04-29T21:11:00", "v": 4.31},
      {"t": "2024-04-30T05:11:00", "v": 4.09}, {"t": "2024-04-30T13:11:00", "v": 4.13}, {"t": "2024-04-30T21:11:00", "v": 4.07},
      {"t": "2024-05-01T05:11:00", "v": 4.11}, {"t": "2024-05-01T13:11:00", "v": 4.10}, {"t": "2024-05-01T21:11:00", "v": 4.09},
      {"t": "2024-05-02T05:11:00", "v": 4.17}, {"t": "2024-05-02T13:11:00", "v": 4.21}, {"t": "2024-05-02T21:11:00", "v": 4.18},
      {"t": "2024-05-03T05:11:00", "v": 4.23}, {"t": "2024-05-03T13:11:00", "v": 4.29}, {"t": "2024-05-03T21:11:00", "v": 4.33},
      {"t": "2024-05-04T05:11:00", "v": 4.45}, {"t": "2024-05-04T13:11:00", "v": 4.29}, {"t": "2024-05-04T21:11:00", "v": 4.13},
      {"t": "2024-05-05T05:11:00", "v": 4.09}, {"t": "2024-05-05T13:11:00", "v": 4.17}, {"t": "2024-05-05T21:11:00", "v": 4.21},
      {"t": "2024-05-06T05:11:00", "v": 4.29}, {"t": "2024-05-06T13:11:00", "v": 4.37}, {"t": "2024-05-06T21:11:00", "v": 4.21},
      {"t": "2024-05-07T05:11:00", "v": 4.17}, {"t": "2024-05-07T13:11:00", "v": 4.13}, {"t": "2024-05-07T21:11:00", "v": 4.18},
      {"t": "2024-05-08T05:11:00", "v": 4.25}, {"t": "2024-05-08T13:11:00", "v": 4.27}, {"t": "2024-05-08T21:11:00", "v": 4.41},
      {"t": "2024-05-09T05:11:00", "v": 4.45}, {"t": "2024-05-09T13:11:00", "v": 4.49}, {"t": "2024-05-09T21:11:00", "v": 4.51},
      {"t": "2024-05-10T05:11:00", "v": 4.53}, {"t": "2024-05-10T13:11:00", "v": 4.51}, {"t": "2024-05-10T21:11:00", "v": 4.62},
      {"t": "2024-05-11T05:11:00", "v": 4.82}, {"t": "2024-05-11T13:11:00", "v": 4.53}, {"t": "2024-05-11T21:11:00", "v": 4.57},
      {"t": "2024-05-12T05:11:00", "v": 5.63}, {"t": "2024-05-12T13:11:00", "v": 5.47}, {"t": "2024-05-12T21:11:00", "v": 5.06},
      {"t": "2024-05-13T05:11:00", "v": 5.27}, {"t": "2024-05-13T13:11:00", "v": 5.35}, {"t": "2024-05-13T21:11:00", "v": 5.47},
      {"t": "2024-05-14T05:11:00", "v": 5.51}, {"t": "2024-05-14T13:11:00", "v": 5.39}, {"t": "2024-05-14T21:11:00", "v": 5.41},
      {"t": "2024-05-15T05:11:00", "v": 5.27}, {"t": "2024-05-15T13:11:00", "v": 5.02}, {"t": "2024-05-15T21:11:00", "v": 4.84},
      {"t": "2024-05-16T05:11:00", "v": 4.94}, {"t": "2024-05-16T13:11:00", "v": 5.15}, {"t": "2024-05-16T21:11:00", "v": 5.43},
      {"t": "2024-05-17T05:11:00", "v": 5.39}, {"t": "2024-05-17T13:11:00", "v": 4.94}, {"t": "2024-05-17T21:11:00", "v": 5.02},
      {"t": "2024-05-18T05:11:00", "v": 4.98}, {"t": "2024-05-18T13:11:00", "v": 4.90}, {"t": "2024-05-18T21:11:00", "v": 5.05},
      {"t": "2024-05-19T05:11:00", "v": 5.30}
    ],
    "d90": [
      {"t": "2024-02-19T05:11:00", "v": 3.74}, {"t": "2024-02-20T05:11:00", "v": 3.69}, {"t": "2024-02-21T05:11:00", "v": 3.74}, {"t": "2024-02-22T05:11:00", "v": 3.67},
      {"t": "2024-02-23T05:11:00", "v": 3.69}, {"t": "2024-02-24T05:11:00", "v": 3.74}, {"t": "2024-02-25T05:11:00", "v": 3.59}, {"t": "2024-02-26T05:11:00", "v": 3.39},
      {"t": "2024-02-27T05:11:00", "v": 3.90}, {"t": "2024-02-28T05:11:00", "v": 3.69}, {"t": "2024-02-29T05:11:00", "v": 3.59}, {"t": "2024-03-01T05:11:00", "v": 3.74},
      {"t": "2024-03-02T05:11:00", "v": 3.64}, {"t": "2024-03-03T05:11:00", "v": 3.79}, {"t": "2024-03-04T05:11:00", "v": 3.59}, {"t": "2024-03-05T05:11:00", "v": 3.44},
      {"t": "2024-03-06T05:11:00", "v": 3.54}, {"t": "2024-03-07T05:11:00", "v": 3.59}, {"t": "2024-03-08T05:11:00", "v": 3.64}, {"t": "2024-03-09T05:11:00", "v": 4.79},
      {"t": "2024-03-10T05:11:00", "v": 4.13}, {"t": "2024-03-11T05:11:00", "v": 4.18}, {"t": "2024-03-12T05:11:00", "v": 4.08}, {"t": "2024-03-13T05:11:00", "v": 4.08},
      {"t": "2024-03-14T05:11:00", "v": 4.33}, {"t": "2024-03-15T05:11:00", "v": 4.47}, {"t": "2024-03-16T05:11:00", "v": 4.38}, {"t": "2024-03-17T05:11:00", "v": 4.30},
      {"t": "2024-03-18T05:11:00", "v": 4.28}, {"t": "2024-03-19T05:11:00", "v": 4.20}, {"t": "2024-03-20T05:11:00", "v": 4.23}, {"t": "2024-03-21T05:11:00", "v": 4.13},
      {"t": "2024-03-22T05:11:00", "v": 4.03}, {"t": "2024-03-23T05:11:00", "v": 4.13}, {"t": "2024-03-24T05:11:00", "v": 4.18}, {"t": "2024-03-25T05:11:00", "v": 4.08},
      {"t": "2024-03-26T05:11:00", "v": 4.18}, {"t": "2024-03-27T05:11:00", "v": 4.08}, {"t": "2024-03-28T05:11:00", "v": 4.33}, {"t": "2024-03-29T05:11:00", "v": 4.10},
      {"t": "2024-03-30T05:11:00", "v": 4.18}, {"t": "2024-03-31T05:11:00", "v": 4.08}, {"t": "2024-04-01T05:11:00", "v": 3.98}, {"t": "2024-04-02T05:11:00", "v": 3.74},
      {"t": "2024-04-03T05:11:00", "v": 3.79}, {"t": "2024-04-04T05:11:00", "v": 3.88}, {"t": "2024-04-05T05:11:00", "v": 3.74}, {"t": "2024-04-06T05:11:00", "v": 3.54},
      {"t": "2024-04-07T05:11:00", "v": 3.64}, {"t": "2024-04-08T05:11:00", "v": 3.79}, {"t": "2024-04-09T05:11:00", "v": 3.84}, {"t": "2024-04-10T05:11:00", "v": 3.81},
      {"t": "2024-04-11T05:11:00", "v": 3.87}, {"t": "2024-04-12T05:11:00", "v": 3.79}, {"t": "2024-04-13T05:11:00", "v": 3.74}, {"t": "2024-04-14T05:11:00", "v": 3.71},
      {"t": "2024-04-15T05:11:00", "v": 3.64}, {"t": "2024-04-16T05:11:00", "v": 3.69}, {"t": "2024-04-17T05:11:00", "v": 3.74}, {"t": "2024-04-18T05:11:00", "v": 3.79},
      {"t": "2024-04-19T05:11:00", "v": 3.84}, {"t": "2024-04-20T05:11:00", "v": 3.81}, {"t": "2024-04-21T05:11:00", "v": 3.87}, {"t": "2024-04-22T05:11:00", "v": 4.03},
      {"t": "2024-04-23T05:11:00", "v": 4.08}, {"t": "2024-04-24T05:11:00", "v": 4.13}, {"t": "2024-04-25T05:11:00", "v": 4.10}, {"t": "2024-04-26T05:11:00", "v": 4.03},
      {"t": "2024-04-27T05:11:00", "v": 4.38}, {"t": "2024-04-28T05:11:00", "v": 4.18}, {"t": "2024-04-29T05:11:00", "v": 4.08}, {"t": "2024-04-30T05:11:00", "v": 4.20},
      {"t": "2024-05-01T05:11:00", "v": 4.13}, {"t": "2024-05-02T05:11:00", "v": 4.28}, {"t": "2024-05-03T05:11:00", "v": 4.46}, {"t": "2024-05-04T05:11:00", "v": 4.18},
      {"t": "2024-05-05T05:11:00", "v": 4.33}, {"t": "2024-05-06T05:11:00", "v": 4.13}, {"t": "2024-05-07T05:11:00", "v": 4.23}, {"t": "2024-05-08T05:11:00", "v": 4.46},
      {"t": "2024-05-09T05:11:00", "v": 4.52}, {"t": "2024-05-10T05:11:00", "v": 4.59}, {"t": "2024-05-11T05:11:00", "v": 4.62}, {"t": "2024-05-12T05:11:00", "v": 5.61},
      {"t": "2024-05-13T05:11:00", "v": 5.46}, {"t": "2024-05-14T05:11:00", "v": 5.21}, {"t": "2024-05-15T05:11:00", "v": 4.82}, {"t": "2024-05-16T05:11:00", "v": 5.36},
      {"t": "2024-05-17T05:11:00", "v": 5.06}, {"t": "2024-05-18T05:11:00", "v": 5.01}, {"t": "2024-05-19T05:11:00", "v": 5.31}
    ],
    "d180": [
      {"t": "2023-11-21T05:11:00", "v": 4.78}, {"t": "2023-11-23T05:11:00", "v": 4.95}, {"t": "2023-11-25T05:11:00", "v": 5.05}, {"t": "2023-11-27T05:11:00", "v": 6.87},
      {"t": "2023-11-29T05:11:00", "v": 5.57}, {"t": "2023-12-01T05:11:00", "v": 5.63}, {"t": "2023-12-03T05:11:00", "v": 5.50}, {"t": "2023-12-05T05:11:00", "v": 5.70},
      {"t": "2023-12-07T05:11:00", "v": 5.89}, {"t": "2023-12-09T05:11:00", "v": 6.61}, {"t": "2023-12-11T05:11:00", "v": 5.00}, {"t": "2023-12-13T05:11:00", "v": 5.45},
      {"t": "2023-12-15T05:11:00", "v": 5.48}, {"t": "2023-12-17T05:11:00", "v": 5.31}, {"t": "2023-12-19T05:11:00", "v": 4.78}, {"t": "2023-12-21T05:11:00", "v": 4.59},
      {"t": "2023-12-23T05:11:00", "v": 4.92}, {"t": "2023-12-25T05:11:00", "v": 5.18}, {"t": "2023-12-27T05:11:00", "v": 4.88}, {"t": "2023-12-29T05:11:00", "v": 4.78},
      {"t": "2023-12-31T05:11:00", "v": 4.88}, {"t": "2024-01-02T05:11:00", "v": 4.82}, {"t": "2024-01-04T05:11:00", "v": 4.92}, {"t": "2024-01-06T05:11:00", "v": 4.92},
      {"t": "2024-01-08T05:11:00", "v": 4.59}, {"t": "2024-01-10T05:11:00", "v": 4.65}, {"t": "2024-01-12T05:11:00", "v": 4.59}, {"t": "2024-01-14T05:11:00", "v": 4.52},
      {"t": "2024-01-16T05:11:00", "v": 4.98}, {"t": "2024-01-18T05:11:00", "v": 4.46}, {"t": "2024-01-20T05:11:00", "v": 4.00}, {"t": "2024-01-22T05:11:00", "v": 3.94},
      {"t": "2024-01-24T05:11:00", "v": 4.13}, {"t": "2024-01-26T05:11:00", "v": 3.81}, {"t": "2024-01-28T05:11:00", "v": 3.55}, {"t": "2024-01-30T05:11:00", "v": 4.75},
      {"t": "2024-02-01T05:11:00", "v": 3.94}, {"t": "2024-02-03T05:11:00", "v": 3.29}, {"t": "2024-02-05T05:11:00", "v": 3.22}, {"t": "2024-02-07T05:11:00", "v": 3.42},
      {"t": "2024-02-09T05:11:00", "v": 3.55}, {"t": "2024-02-11T05:11:00", "v": 3.81}, {"t": "2024-02-13T05:11:00", "v": 4.20}, {"t": "2024-02-15T05:11:00", "v": 3.81},
      {"t": "2024-02-17T05:11:00", "v": 3.68}, {"t": "2024-02-19T05:11:00", "v": 3.81}, {"t": "2024-02-21T05:11:00", "v": 3.74}, {"t": "2024-02-23T05:11:00", "v": 3.68},
      {"t": "2024-02-25T05:11:00", "v": 3.87}, {"t": "2024-02-27T05:11:00", "v": 3.68}, {"t": "2024-02-29T05:11:00", "v": 3.55}, {"t": "2024-03-02T05:11:00", "v": 3.65},
      {"t": "2024-03-04T05:11:00", "v": 3.57}, {"t": "2024-03-06T05:11:00", "v": 4.75}, {"t": "2024-03-08T05:11:00", "v": 4.26}, {"t": "2024-03-10T05:11:00", "v": 4.07},
      {"t": "2024-03-12T05:11:00", "v": 4.49}, {"t": "2024-03-14T05:11:00", "v": 4.33}, {"t": "2024-03-16T05:11:00", "v": 4.20}, {"t": "2024-03-18T05:11:00", "v": 4.07},
      {"t": "2024-03-20T05:11:00", "v": 4.26}, {"t": "2024-03-22T05:11:00", "v": 4.07}, {"t": "2024-03-24T05:11:00", "v": 4.20}, {"t": "2024-03-26T05:11:00", "v": 4.00},
      {"t": "2024-03-28T05:11:00", "v": 4.30}, {"t": "2024-03-30T05:11:00", "v": 4.00}, {"t": "2024-04-01T05:11:00", "v": 3.81}, {"t": "2024-04-03T05:11:00", "v": 3.74},
      {"t": "2024-04-05T05:11:00", "v": 3.74}, {"t": "2024-04-07T05:11:00", "v": 3.87}, {"t": "2024-04-09T05:11:00", "v": 3.81}, {"t": "2024-04-11T05:11:00", "v": 3.91},
      {"t": "2024-04-13T05:11:00", "v": 3.68}, {"t": "2024-04-15T05:11:00", "v": 3.74}, {"t": "2024-04-17T05:11:00", "v": 3.87}, {"t": "2024-04-19T05:11:00", "v": 3.94},
      {"t": "2024-04-21T05:11:00", "v": 4.07}, {"t": "2024-04-23T05:11:00", "v": 4.00}, {"t": "2024-04-25T05:11:00", "v": 4.13}, {"t": "2024-04-27T05:11:00", "v": 4.33},
      {"t": "2024-04-29T05:11:00", "v": 4.20}, {"t": "2024-05-01T05:11:00", "v": 4.39}, {"t": "2024-05-03T05:11:00", "v": 4.26}, {"t": "2024-05-05T05:11:00", "v": 4.46},
      {"t": "2024-05-07T05:11:00", "v": 4.59}, {"t": "2024-05-09T05:11:00", "v": 4.62}, {"t": "2024-05-11T05:11:00", "v": 5.63}, {"t": "2024-05-13T05:11:00", "v": 5.30},
      {"t": "2024-05-15T05:11:00", "v": 4.98}, {"t": "2024-05-17T05:11:00", "v": 5.00}, {"t": "2024-05-19T05:11:00", "v": 5.30}
    ],
    "d360": [
      {"t": "2023-05-25T05:11:00", "v": 4.49}, {"t": "2023-05-29T05:11:00", "v": 4.59}, {"t": "2023-06-02T05:11:00", "v": 4.40}, {"t": "2023-06-06T05:11:00", "v": 4.59},
      {"t": "2023-06-10T05:11:00", "v": 4.49}, {"t": "2023-06-14T05:11:00", "v": 4.25}, {"t": "2023-06-18T05:11:00", "v": 3.76}, {"t": "2023-06-22T05:11:00", "v": 3.27},
      {"t": "2023-06-26T05:11:00", "v": 3.03}, {"t": "2023-06-30T05:11:00", "v": 3.13}, {"t": "2023-07-04T05:11:00", "v": 2.93}, {"t": "2023-07-08T05:11:00", "v": 2.64},
      {"t": "2023-07-12T05:11:00", "v": 3.03}, {"t": "2023-07-16T05:11:00", "v": 3.27}, {"t": "2023-07-20T05:11:00", "v": 3.37}, {"t": "2023-07-24T05:11:00", "v": 3.13},
      {"t": "2023-07-28T05:11:00", "v": 2.93}, {"t": "2023-08-01T05:11:00", "v": 2.78}, {"t": "2023-08-05T05:11:00", "v": 2.54}, {"t": "2023-08-09T05:11:00", "v": 2.44},
      {"t": "2023-08-13T05:11:00", "v": 2.64}, {"t": "2023-08-17T05:11:00", "v": 2.54}, {"t": "2023-08-21T05:11:00", "v": 2.78}, {"t": "2023-08-25T05:11:00", "v": 2.93},
      {"t": "2023-08-29T05:11:00", "v": 2.78}, {"t": "2023-09-02T05:11:00", "v": 3.03}, {"t": "2023-09-06T05:11:00", "v": 2.93}, {"t": "2023-09-10T05:11:00", "v": 3.03},
      {"t": "2023-09-14T05:11:00", "v": 3.13}, {"t": "2023-09-18T05:11:00", "v": 3.03}, {"t": "2023-09-22T05:11:00", "v": 2.93}, {"t": "2023-09-26T05:11:00", "v": 3.03},
      {"t": "2023-09-30T05:11:00", "v": 2.78}, {"t": "2023-10-04T05:11:00", "v": 2.64}, {"t": "2023-10-08T05:11:00", "v": 13.53}, {"t": "2023-10-12T05:11:00", "v": 9.0},
      {"t": "2023-10-16T05:11:00", "v": 8.40}, {"t": "2023-10-20T05:11:00", "v": 7.67}, {"t": "2023-10-24T05:11:00", "v": 6.69}, {"t": "2023-10-28T05:11:00", "v": 6.20},
      {"t": "2023-11-01T05:11:00", "v": 6.45}, {"t": "2023-11-05T05:11:00", "v": 5.72}, {"t": "2023-11-09T05:11:00", "v": 6.69}, {"t": "2023-11-13T05:11:00", "v": 5.47},
      {"t": "2023-11-17T05:11:00", "v": 5.72}, {"t": "2023-11-21T05:11:00", "v": 5.23}, {"t": "2023-11-25T05:11:00", "v": 4.89}, {"t": "2023-11-29T05:11:00", "v": 6.69},
      {"t": "2023-12-03T05:11:00", "v": 5.96}, {"t": "2023-12-07T05:11:00", "v": 6.55}, {"t": "2023-12-11T05:11:00", "v": 5.23}, {"t": "2023-12-15T05:11:00", "v": 4.98},
      {"t": "2023-12-19T05:11:00", "v": 4.74}, {"t": "2023-12-23T05:11:00", "v": 4.74}, {"t": "2023-12-27T05:11:00", "v": 4.89}, {"t": "2023-12-31T05:11:00", "v": 4.59},
      {"t": "2024-01-04T05:11:00", "v": 4.74}, {"t": "2024-01-08T05:11:00", "v": 4.49}, {"t": "2024-01-12T05:11:00", "v": 4.59}, {"t": "2024-01-16T05:11:00", "v": 4.25},
      {"t": "2024-01-20T05:11:00", "v": 4.01}, {"t": "2024-01-24T05:11:00", "v": 3.91}, {"t": "2024-01-28T05:11:00", "v": 4.74}, {"t": "2024-02-01T05:11:00", "v": 3.52},
      {"t": "2024-02-05T05:11:00", "v": 3.27}, {"t": "2024-02-09T05:11:00", "v": 3.52}, {"t": "2024-02-13T05:11:00", "v": 3.76}, {"t": "2024-02-17T05:11:00", "v": 3.52},
      {"t": "2024-02-21T05:11:00", "v": 3.42}, {"t": "2024-02-25T05:11:00", "v": 3.52}, {"t": "2024-02-29T05:11:00", "v": 3.62}, {"t": "2024-03-04T05:11:00", "v": 3.42},
      {"t": "2024-03-08T05:11:00", "v": 4.59}, {"t": "2024-03-12T05:11:00", "v": 4.25}, {"t": "2024-03-16T05:11:00", "v": 4.10}, {"t": "2024-03-20T05:11:00", "v": 4.25},
      {"t": "2024-03-24T05:11:00", "v": 4.10}, {"t": "2024-03-28T05:11:00", "v": 4.01}, {"t": "2024-04-01T05:11:00", "v": 3.76}, {"t": "2024-04-05T05:11:00", "v": 3.52},
      {"t": "2024-04-09T05:11:00", "v": 3.76}, {"t": "2024-04-13T05:11:00", "v": 3.91}, {"t": "2024-04-17T05:11:00", "v": 3.76}, {"t": "2024-04-21T05:11:00", "v": 4.01},
      {"t": "2024-04-25T05:11:00", "v": 4.25}, {"t": "2024-04-29T05:11:00", "v": 4.40}, {"t": "2024-05-03T05:11:00", "v": 4.59}, {"t": "2024-05-07T05:11:00", "v": 4.74},
      {"t": "2024-05-11T05:11:00", "v": 4.62}, {"t": "2024-05-15T05:11:00", "v": 5.47}, {"t": "2024-05-19T05:11:00", "v": 5.23}
    ]
  }
}
